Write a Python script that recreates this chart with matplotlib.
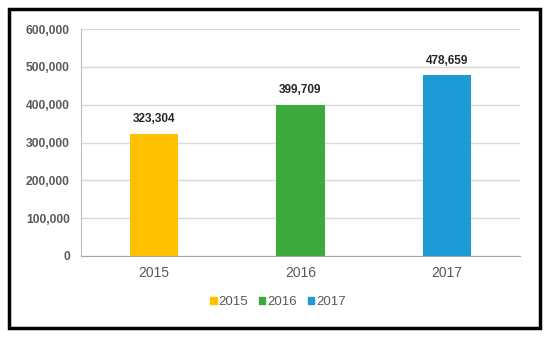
import matplotlib
matplotlib.use("Agg")
import matplotlib.pyplot as plt
from matplotlib.patches import Rectangle
from matplotlib.ticker import FuncFormatter

plt.rcParams['font.family'] = ['Liberation Sans', 'DejaVu Sans']

categories = ["2015", "2016", "2017"]
values = [323304, 399709, 478659]
colors = ["#FFC000", "#3DAA3D", "#1E9BD7"]
yticks = [0, 100000, 200000, 300000, 400000, 500000, 600000]

fig = plt.figure(figsize=(5.5, 3.38), dpi=100)
ax = fig.add_axes([81/550, 1-256/338, (520-81)/550, (256-29)/338])

x = list(range(len(categories)))
bars = ax.bar(x, values, width=0.33, color=colors, label=categories, zorder=3)
for xi, v in zip(x, values):
    ax.text(xi, v + 22000, f"{v:,}", ha="center", va="bottom", fontsize=8.5,
            fontweight="bold", color="#262626")

ax.set_ylim(0, 600000)
ax.set_xlim(-0.5, 2.5)
ax.set_yticks(yticks)
ax.yaxis.set_major_formatter(FuncFormatter(lambda v, p: f"{int(v):,}"))
ax.set_xticks(x)
ax.set_xticklabels(categories)
ax.tick_params(axis="y", length=0, pad=8, labelsize=8.7, labelcolor="#595959")
ax.tick_params(axis="x", length=0, pad=7, labelsize=10, labelcolor="#595959")
for lbl in ax.get_yticklabels():
    lbl.set_fontweight("bold")
ax.grid(axis="y", color="#D9D9D9", linewidth=1, zorder=0)
for s in ["top", "right"]:
    ax.spines[s].set_visible(False)
ax.spines["left"].set_color("#BFBFBF")
ax.spines["bottom"].set_color("#A6A6A6")

handles = [Rectangle((0, 0), 1, 1, color=c) for c in colors]
fig.legend(handles, categories, loc="center", bbox_to_anchor=(278/550, 1-302/338),
           ncol=3, frameon=False, fontsize=9.5, handlelength=0.5, handleheight=0.5,
           handletextpad=0.15, columnspacing=0.8, labelcolor="#595959",
           borderpad=0, borderaxespad=0)

fig.patches.append(Rectangle((9/550, 1-328/338), (540-9)/550, (328-9)/338,
                             transform=fig.transFigure, fill=False,
                             edgecolor="black", linewidth=2.5))

fig.savefig("out.png", dpi=100)
